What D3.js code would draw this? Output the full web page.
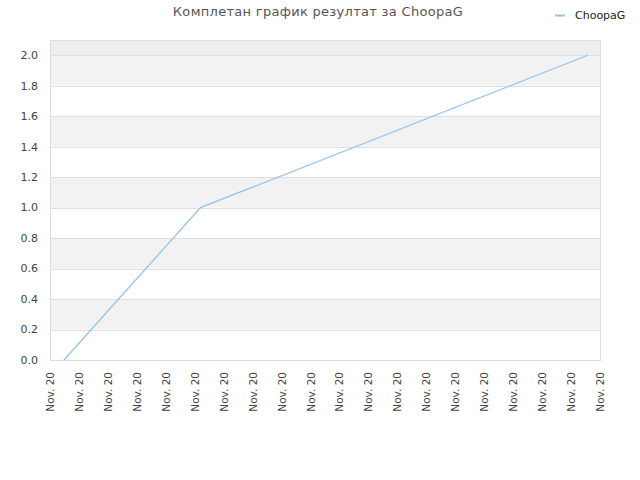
<!DOCTYPE html>
<html><head><meta charset="utf-8">
<script src="https://cdn.jsdelivr.net/npm/d3@7"></script>
<style>body{margin:0;background:#fff}svg{display:block}text{font-family:"DejaVu Sans",sans-serif}</style>
</head><body>
<svg id="c" width="640" height="480"></svg>
<script>
const title = "Комплетан график резултат за ChoopaG";
const seriesName = "ChoopaG";
const xTickLabels = Array.from({length:20}, () => "Nov. 20");
const pointPos = [0.48, 5.2, 18.58];
const pointVals = [0, 1, 2];
const yTicks = [0,0.2,0.4,0.6,0.8,1.0,1.2,1.4,1.6,1.8,2.0];

const svg = d3.select("#c");
const L=50,R=600,T=40,B=360;
const x = d3.scaleLinear().domain([0, xTickLabels.length-1]).range([L,R]);
const y = d3.scaleLinear().domain([0,2.1]).range([B,T]);

svg.append("rect").attr("x",L).attr("y",T).attr("width",R-L).attr("height",y(2.0)-T).attr("fill","#eeeeee");
for(let i=0;i<yTicks.length-1;i++){
  if(i%2===1){
    svg.append("rect").attr("x",L).attr("y",y(yTicks[i+1])).attr("width",R-L)
      .attr("height",y(yTicks[i])-y(yTicks[i+1])).attr("fill","#f2f2f2");
  }
}
svg.selectAll(".g").data(yTicks).enter().append("line")
  .attr("x1",L).attr("x2",R).attr("y1",d=>Math.round(y(d))+0.5).attr("y2",d=>Math.round(y(d))+0.5)
  .attr("stroke","#e0e0e0");
svg.append("line").attr("x1",L+0.5).attr("x2",L+0.5).attr("y1",T).attr("y2",B).attr("stroke","#dddddd");
svg.append("line").attr("x1",R+0.5).attr("x2",R+0.5).attr("y1",T).attr("y2",B).attr("stroke","#dddddd");
svg.append("line").attr("x1",L).attr("x2",R).attr("y1",T+0.5).attr("y2",T+0.5).attr("stroke","#dddddd");
svg.append("line").attr("x1",L).attr("x2",R+1).attr("y1",B+0.5).attr("y2",B+0.5).attr("stroke","#dddddd");

svg.selectAll(".yl").data(yTicks).enter().append("text")
  .attr("x",L-12).attr("y",d=>y(d)).attr("dy","0.35em").attr("text-anchor","end")
  .attr("font-size",11).attr("fill","#444").text(d=>d.toFixed(1));

svg.selectAll(".xl").data(xTickLabels).enter().append("text")
  .attr("transform",(d,i)=>`translate(${x(i)+4},${B+12}) rotate(-90)`)
  .attr("text-anchor","end").attr("font-size",10.5).attr("fill","#444").text(d=>d);

const pts = pointPos.map((p,i)=>[p,pointVals[i]]);
svg.append("path").datum(pts)
  .attr("d", d3.line().x(d=>x(d[0])).y(d=>y(d[1])))
  .attr("fill","none").attr("stroke","#94c3f2").attr("stroke-width",1.3);

svg.append("text").attr("x",318).attr("y",16).attr("text-anchor","middle")
  .attr("font-size",13).attr("fill","#555").attr("letter-spacing","0.3").text(title);

svg.append("line").attr("x1",555).attr("x2",565).attr("y1",15.5).attr("y2",15.5).attr("stroke","#94c3f2").attr("stroke-width",2);
svg.append("text").attr("x",575).attr("y",15).attr("dy","0.35em").attr("font-size",11).attr("fill","#222").text(seriesName);
</script>
</body></html>
